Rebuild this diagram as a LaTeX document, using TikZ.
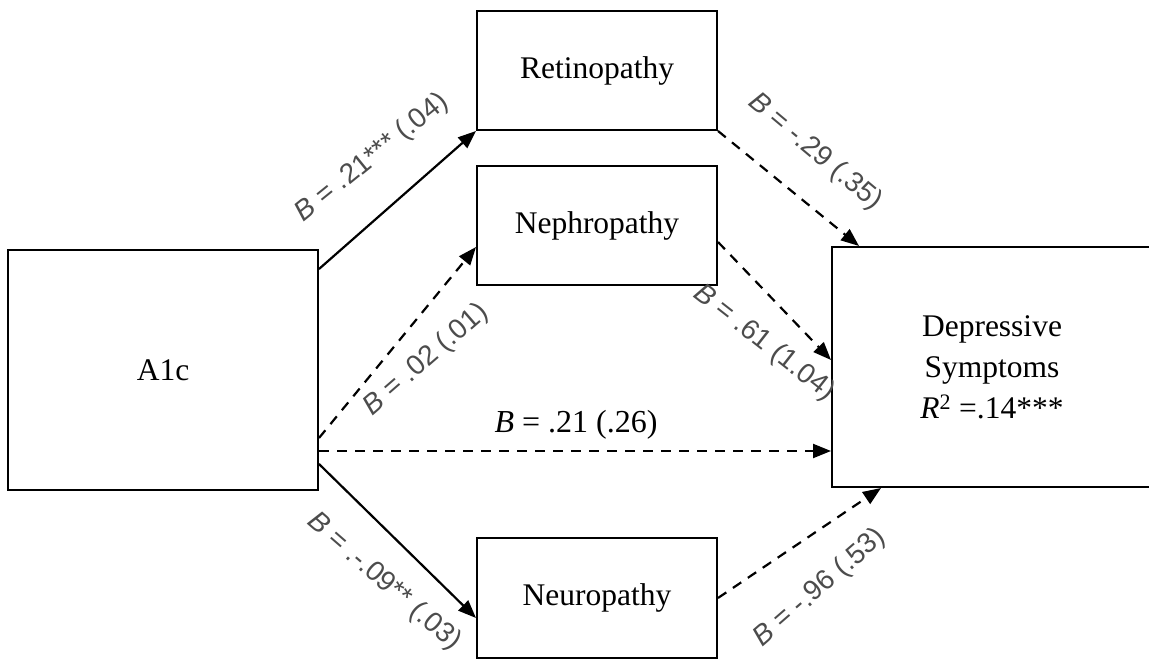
\documentclass[tikz,border=0pt]{standalone}
\usepackage{fontspec}
\setmainfont{Liberation Serif}
\newfontfamily\lblfont{Liberation Sans}
\usetikzlibrary{arrows.meta,calc}
\begin{document}
\begin{tikzpicture}[x=1pt,y=-1pt,
  box/.style={draw,line width=2pt,inner sep=0pt,font=\fontsize{31.5}{41}\selectfont,align=center},
  arr/.style={line width=2.2pt,-{Triangle[length=18pt,width=14pt]}},
  dsh/.style={arr,dash pattern=on 10pt off 8pt},
  lbl/.style={font=\lblfont\fontsize{28}{32}\selectfont,text=black!70,inner sep=0pt},
  ]
\useasboundingbox (0,0) rectangle (1149,660);
\clip (0,0) rectangle (1149,660);
\node[box,minimum width=310pt,minimum height=240pt] (a1c) at (163,370) {A1c};
\node[box,minimum width=240pt,minimum height=119pt] (ret) at (597,70.5) {Retinopathy};
\node[box,minimum width=240pt,minimum height=119pt] (neph) at (597,225.5) {Nephropathy};
\node[box,minimum width=240pt,minimum height=120pt] (neu) at (597,598) {Neuropathy};
\node[box,minimum width=320pt,minimum height=240pt] (dep) at (992,367) {Depressive\\Symptoms\\\textit{R}\textsuperscript{2} =.14***};

\draw[arr] ([yshift=-20pt]a1c.north east) -- (ret.south west);
\draw[dsh] ([yshift=53pt]a1c.south east) -- ([yshift=-21.5pt]neph.west);
\coordinate (hs) at ([yshift=40pt]a1c.south east);
\draw[dsh] (hs) -- (hs -| dep.west);
\draw[arr] ([yshift=27pt]a1c.south east) -- ([yshift=-20pt]neu.west);
\draw[dsh] (ret.south east) -- ([xshift=28pt]dep.north west);
\draw[dsh] ([yshift=-16.5pt]neph.east) -- ([yshift=7pt]dep.west);
\draw[dsh] (neu.east) -- ([xshift=50pt]dep.south west);

\node[lbl,rotate=39] (l1) at (372,158) {\textit{B} = .21*** (.04)};
\node[lbl,rotate=41] (l2) at (426,360) {\textit{B} = .02 (.01)};
\node[lbl,rotate=-41] (l3) at (384,582) {\textit{B} = .-.09** (.03)};
\node[lbl,rotate=-40] (l4) at (815,152) {\textit{B} = -.29 (.35)};
\node[lbl,rotate=-38] (l5) at (764,343) {\textit{B} = .61 (1.04)};
\node[lbl,rotate=41] (l6) at (820,588) {\textit{B} = -.96 (.53)};
\node[font=\fontsize{32}{36}\selectfont,inner sep=0pt] (lh) at (576,425) {\textit{B} = .21 (.26)};
\end{tikzpicture}
\end{document}
